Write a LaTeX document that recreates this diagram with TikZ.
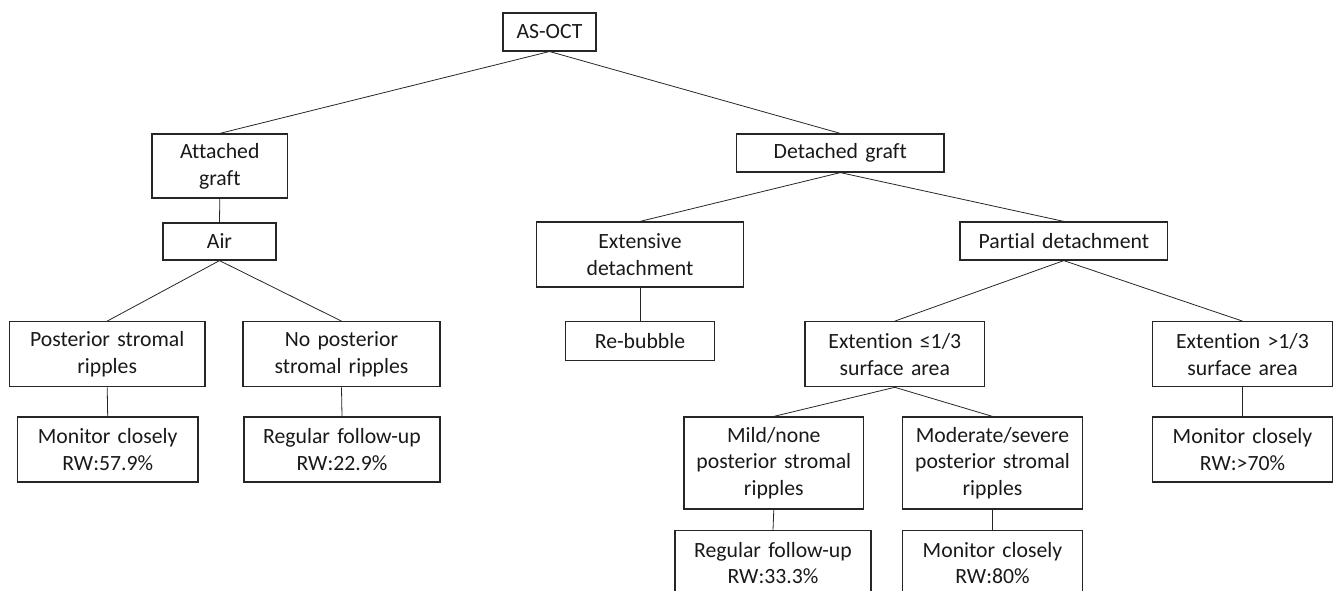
\documentclass[tikz,border=0pt]{standalone}
\usepackage{fontspec}
\setmainfont[RawFeature={-liga;-clig;-calt;-dlig}]{Carlito}
\begin{document}
\begin{tikzpicture}[x=0.75pt,y=-0.75pt,
  box/.style={draw=black!85,line width=0.9pt,inner sep=0pt,align=center,
    font=\fontsize{16.3}{20}\selectfont,text=black!90},
  conn/.style={draw=black!85,line width=0.6pt}]
\useasboundingbox (0,0) rectangle (1336,590);
\newcommand{\bx}[6]{\node[box,minimum width=#4*0.75pt,minimum height=#5*0.75pt,text width=#4*0.75pt] (#1) at (#2,#3) {#6};}
\bx{asoct}{549.5}{31.9}{93}{38}{AS-OCT}
\bx{att}{219.8}{166}{135.5}{64}{Attached\\graf{}t}
\bx{air}{219.5}{241.5}{113}{37}{Air}
\bx{det}{840.3}{153}{207.4}{38}{Detached graf{}t}
\bx{ext}{640}{254.5}{207.6}{65}{Extensive\\detachment}
\bx{par}{1063.8}{241}{207.5}{38}{Part{}ial detachment}
\bx{psr}{107.2}{354.2}{195.6}{65}{Posterior stromal\\ripples}
\bx{npsr}{341.5}{354.2}{197}{65}{No posterior\\stromal ripples}
\bx{mon1}{107.7}{449.5}{180.6}{65}{Monitor closely\\RW:57.9\%}
\bx{reg1}{342}{449.5}{196}{65}{Regular follow-up\\RW:22.9\%}
\bx{reb}{640}{341}{149.7}{38.3}{Re-bubble}
\bx{exl}{894.8}{354.2}{179.6}{65}{Extent{}ion ≤1/3\\surface area}
\bx{exg}{1242.5}{354.2}{179.4}{65}{Extent{}ion >1/3\\surface area}
\bx{mon2}{1242.5}{449.5}{179.4}{65}{Monitor closely\\RW:>70\%}
\bx{mild}{773.8}{463}{179.5}{92}{Mild/none\\posterior stromal\\ripples}
\bx{mod}{992.5}{463}{179.5}{92}{Moderate/severe\\posterior stromal\\ripples}
\bx{reg2}{773}{563.2}{196}{65}{Regular follow-up\\RW:33.3\%}
\bx{mon3}{992.5}{563.2}{179.5}{65}{Monitor closely\\RW:80\%}
\draw[conn] (asoct.south) -- (att.north);
\draw[conn] (asoct.south) -- (det.north);
\draw[conn] (att.south) -- (air.north);
\draw[conn] (air.south) -- (psr.north);
\draw[conn] (air.south) -- (npsr.north);
\draw[conn] (psr.south) -- (mon1.north);
\draw[conn] (npsr.south) -- (reg1.north);
\draw[conn] (det.south) -- (ext.north);
\draw[conn] (det.south) -- (par.north);
\draw[conn] (ext.south) -- (reb.north);
\draw[conn] (par.south) -- (exl.north);
\draw[conn] (par.south) -- (exg.north);
\draw[conn] (exg.south) -- (mon2.north);
\draw[conn] (exl.south) -- (mild.north);
\draw[conn] (exl.south) -- (mod.north);
\draw[conn] (mild.south) -- (reg2.north);
\draw[conn] (mod.south) -- (mon3.north);
\end{tikzpicture}
\end{document}
